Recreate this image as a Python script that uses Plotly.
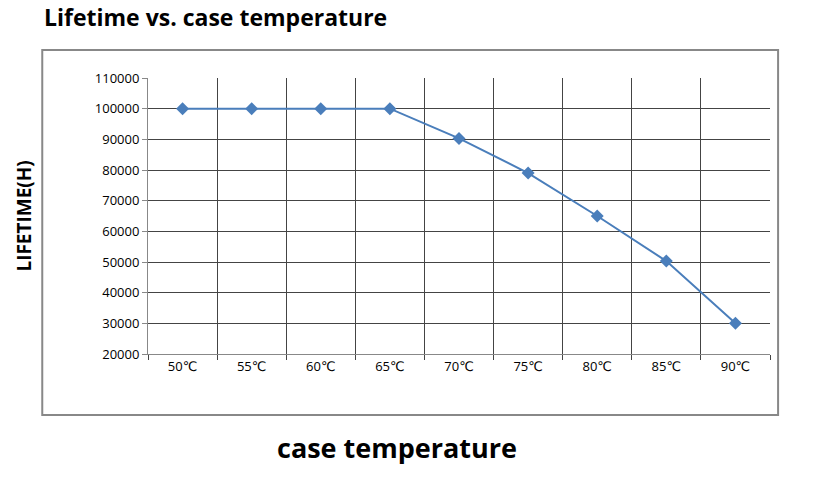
import plotly.graph_objects as go

temps = ["50℃", "55℃", "60℃", "65℃", "70℃", "75℃", "80℃", "85℃", "90℃"]
lifetime = [100000, 100000, 100000, 100000, 90300, 79000, 65000, 50300, 30000]

x = list(range(len(temps)))
fig = go.Figure()
fig.add_trace(go.Scatter(x=x, y=lifetime, mode="lines+markers",
                         line=dict(color="#4a7ebb", width=2),
                         marker=dict(symbol="diamond", size=10, color="#4a7ebb")))

fig.update_layout(
    width=834, height=487, showlegend=False,
    plot_bgcolor="white", paper_bgcolor="white",
    margin=dict(l=140, r=72, t=70, b=141),
    font=dict(family="Open Sans, DejaVu Sans", color="black"),
    xaxis=dict(range=[-0.5, 8.5], tickvals=x, ticktext=temps, showgrid=False,
               ticks="outside", ticklen=0, tickfont=dict(size=13),
               minor=dict(tick0=0.5, dtick=1, showgrid=True, gridcolor="#444",
                          gridwidth=1, ticks="outside", ticklen=5, tickcolor="#444"),
               showline=True, linecolor="#888", zeroline=False),
    yaxis=dict(range=[20000, 110000], dtick=10000, tickformat="d", showgrid=True,
               gridcolor="#444", gridwidth=1, ticks="outside", ticklen=5,
               tickcolor="#888", tickfont=dict(size=13), showline=True,
               linecolor="#888", zeroline=False),
    shapes=[dict(type="rect", xref="paper", yref="paper",
                 x0=-0.17, x1=1.013, y0=-0.221, y1=1.101,
                 line=dict(color="#888", width=2), layer="below")],
    annotations=[
        dict(text="<b>Lifetime vs. case temperature</b>", xref="paper", yref="paper",
             x=-0.17, y=1.22, xanchor="left", yanchor="middle", showarrow=False,
             font=dict(size=23)),
        dict(text="<b>LIFETIME(H)</b>", xref="paper", yref="paper",
             x=-0.2, y=0.5, textangle=-90, showarrow=False,
             xanchor="center", yanchor="middle", font=dict(size=19)),
        dict(text="<b>case temperature</b>", xref="paper", yref="paper",
             x=0.4, y=-0.34, showarrow=False, xanchor="center", yanchor="middle",
             font=dict(size=27)),
    ],
)
fig.write_html("out.html")
